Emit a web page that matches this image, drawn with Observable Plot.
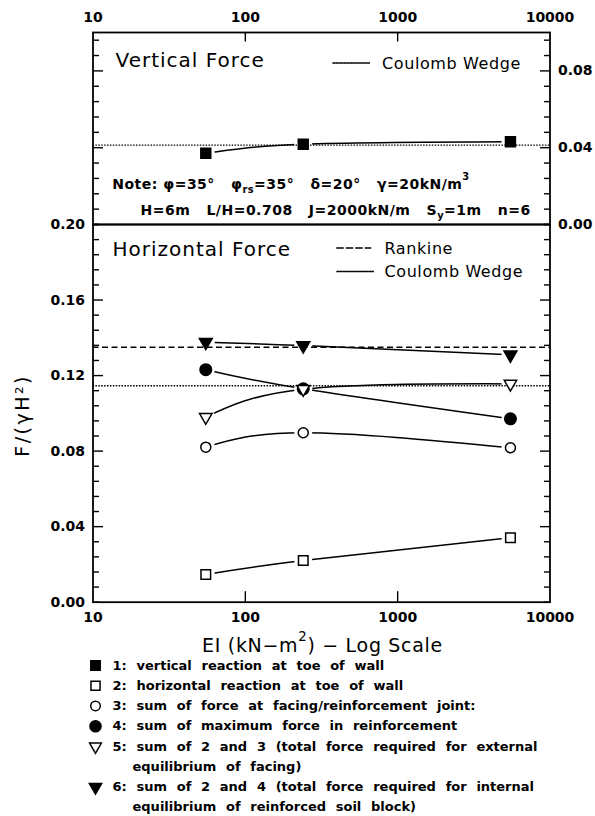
<!DOCTYPE html>
<html><head><meta charset="utf-8">
<script src="https://cdn.jsdelivr.net/npm/d3@7"></script>
<script src="https://cdn.jsdelivr.net/npm/@observablehq/plot@0.6"></script>
<style>
body{margin:0;background:#fff;}
#wrap{position:relative;width:595px;height:816px;overflow:hidden;font-family:"DejaVu Sans",sans-serif;}
.panel{position:absolute;left:0;}
</style></head>
<body>
<div id="wrap">
  <div id="p1" class="panel" style="top:0"></div>
  <div id="p2" class="panel" style="top:222px"></div>
  <div id="p3" class="panel" style="top:652px"></div>
</div>
<script>
// ---------- data ----------
const EI = [55, 240, 5500];
const xTickLabels = [10, 100, 1000, 10000];
const xInnerTicks = [100, 1000];
const yTicksTop = [0, 0.04, 0.08];
const yTicksBottom = [0, 0.04, 0.08, 0.12, 0.16, 0.20];

const vertical1 = [0.0371, 0.0418, 0.0431];        // 1: vertical reaction at toe
const horizontal2 = [0.0147, 0.0221, 0.0341];      // 2: horizontal reaction at toe
const facing3 = [0.0821, 0.0897, 0.0818];          // 3: force at facing/reinforcement joint
const reinforcement4 = [0.1231, 0.1130, 0.0971];   // 4: max force in reinforcement
const external5 = [0.0980, 0.1128, 0.1156];        // 5: 2 + 3
const internal6 = [0.1377, 0.1359, 0.1310];        // 6: 2 + 4

const coulombVertical = [0.0413];
const rankineHorizontal = [0.1350];
const coulombHorizontal = [0.1146];

const legendLabels = [
  "1: vertical reaction at toe of wall",
  "2: horizontal reaction at toe of wall",
  "3: sum of force at facing/reinforcement joint:",
  "4: sum of maximum force in reinforcement",
  "5: sum of 2 and 3 (total force required for external",
  "6: sum of 2 and 4 (total force required for internal"
];
const legendContinuation = [null, null, null, null,
  "equilibrium of facing)",
  "equilibrium of reinforced soil block)"];
const legendRows = [0, 1, 2, 3, 4, 6];

const noteLine1 = "Note:\u00a0φ=35°\u00a0\u00a0\u00a0φ_{rs}=35°\u00a0\u00a0\u00a0δ=20°\u00a0\u00a0\u00a0γ=20kN/m^{3}";
const noteLine2 = "H=6m\u00a0\u00a0\u00a0L/H=0.708\u00a0\u00a0\u00a0J=2000kN/m\u00a0\u00a0\u00a0S_{y}=1m\u00a0\u00a0\u00a0n=6";

// ---------- styles ----------
const styles = {
  1: {symbol: "square", fill: "black", stroke: "black", r: 5.6},
  2: {symbol: "square", fill: "white", stroke: "black", r: 5.4},
  3: {symbol: "circle", fill: "white", stroke: "black", r: 5},
  4: {symbol: "circle", fill: "black", stroke: "black", r: 5.8},
  5: {symbol: "triangle", fill: "white", stroke: "black", r: 4.6, rotate: 180},
  6: {symbol: "triangle", fill: "black", stroke: "black", r: 4.8, rotate: 180}
};
const FONT = "DejaVu Sans";
const W = 595, ML = 92.5, MR = 45.5, innerW = W - ML - MR;
const DOTTED = "1.5,1.4";
const rows = vals => EI.map((x, i) => ({x, y: vals[i]}));
const decadePx = innerW / 3;                      // log x scale: pixels per decade
const logStep = px => Math.pow(10, px / decadePx);

function seriesLayers(list) {
  const lines = [], halos = [], dots = [];
  for (const [vals, id] of list) {
    const data = rows(vals), st = styles[id];
    lines.push(Plot.line(data, {x: "x", y: "y", curve: "natural", stroke: "black", strokeWidth: 1.5}));
    halos.push(Plot.dot(data, {x: "x", y: "y", r: 9, fill: "white", stroke: "none"}));
    dots.push(Plot.dot(data, {x: "x", y: "y", symbol: st.symbol, fill: st.fill, stroke: st.stroke,
      strokeWidth: 1.5, r: st.r, rotate: st.rotate || 0}));
  }
  return {lines, halos, dots};
}

// inward frame ticks as short links anchored on the frame edges
function frameTicks({yMax, innerH, tickMax, major, xEdge, xLen}) {
  const minor = d3.range(0, tickMax + 1e-9, 0.008).filter(v => !major.some(m => Math.abs(m - v) < 1e-9));
  const o = {stroke: "black", strokeWidth: 1.4};
  const side = (vals, len) => [
    Plot.link(vals, {...o, x1: () => 10, x2: () => 10 * logStep(len), y1: d => d, y2: d => d}),
    Plot.link(vals, {...o, x1: () => 10000, x2: () => 10000 / logStep(len), y1: d => d, y2: d => d})
  ];
  const yPer = yMax / innerH;
  const xt = xEdge === "top"
    ? Plot.link(xInnerTicks, {...o, x1: d => d, x2: d => d, y1: () => yMax, y2: () => yMax - xLen * yPer})
    : Plot.link(xInnerTicks, {...o, x1: d => d, x2: d => d, y1: () => 0, y2: () => xLen * yPer});
  return [...side(minor, 6), ...side(major, 10), xt];
}

function rich(svg) {
  d3.select(svg).selectAll("text").each(function() {
    const t = this.textContent;
    if (!/[_^]\{/.test(t)) return;
    const fs = parseFloat(getComputedStyle(this).fontSize) || 12;
    const parts = t.split(/([_^]\{[^}]*\})/);
    while (this.firstChild) this.removeChild(this.firstChild);
    let shift = 0;
    for (const p of parts) {
      if (!p) continue;
      const m = p.match(/^([_^])\{([^}]*)\}$/);
      const ts = document.createElementNS("http://www.w3.org/2000/svg", "tspan");
      if (m) {
        const target = m[1] === "^" ? -0.62 * fs : 0.32 * fs;
        ts.setAttribute("dy", target - shift); shift = target;
        ts.setAttribute("font-size", 0.7 * fs);
        ts.textContent = m[2];
      } else {
        if (shift) ts.setAttribute("dy", -shift);
        shift = 0;
        ts.textContent = p;
      }
      this.appendChild(ts);
    }
  });
}

const spacingRules = [];
function spaced(strings, letter, word) { for (const s of strings) spacingRules.push({s, letter, word}); }
function applySpacing(svg) {
  svg.querySelectorAll("text").forEach(t => {
    const rule = spacingRules.find(r => r.s === t.textContent);
    if (!rule) return;
    if (rule.letter != null) t.style.letterSpacing = rule.letter + "px";
    if (rule.word != null) t.style.wordSpacing = rule.word + "px";
  });
}
spaced(["Vertical Force", "Horizontal Force"], 1.0);
spaced(["Coulomb Wedge", "Rankine"], 0.6);
spaced([noteLine1, noteLine2], 0.5);
spaced(["EI (kN−m^{2}) − Log Scale"], 0.7);
spaced(["F/(γH²)"], 2.5);
spaced([...legendLabels, ...legendContinuation.filter(Boolean)], null, 5.2);

const axisFont = {fontSize: 14, fontWeight: "bold", fontFamily: FONT};

// ---------- top panel: vertical force ----------
const H1 = 226, MT1 = 32, MB1 = 2, innerH1 = H1 - MT1 - MB1;
const s1 = seriesLayers([[vertical1, 1]]);
const plot1 = Plot.plot({
  width: W, height: H1, marginLeft: ML, marginRight: MR, marginTop: MT1, marginBottom: MB1,
  style: {fontFamily: FONT, background: "transparent", overflow: "visible"},
  x: {type: "log", domain: [10, 10000]},
  y: {domain: [0, 0.1]},
  marks: [
    ...s1.lines, ...s1.halos,
    Plot.ruleY(coulombVertical, {stroke: "black", strokeWidth: 1.3, strokeDasharray: DOTTED}),
    ...s1.dots,
    Plot.frame({stroke: "black", strokeWidth: 1.8}),
    Plot.axisX(xTickLabels, {anchor: "top", tickSize: 0, tickPadding: 11, tickFormat: d => String(d), label: null, ...axisFont}),
    Plot.axisY(yTicksTop, {anchor: "right", tickSize: 0, tickPadding: 8, tickFormat: d3.format(".2f"), label: null, ...axisFont}),
    Plot.text(["Vertical Force"], {text: d => d, frameAnchor: "top-left", dx: 22.5, dy: 34.7, lineAnchor: "bottom", textAnchor: "start", fontSize: 20}),
    Plot.frame({anchor: "top", insetTop: 30.5, insetLeft: 240, insetRight: 179.5, stroke: "black", strokeWidth: 1.3, strokeDasharray: DOTTED}),
    Plot.text(["Coulomb Wedge"], {text: d => d, frameAnchor: "top-left", dx: 289, dy: 36, lineAnchor: "bottom", textAnchor: "start", fontSize: 16}),
    Plot.text([noteLine1], {text: d => d, frameAnchor: "bottom-left", dx: 19.2, dy: -35.7, lineAnchor: "bottom", textAnchor: "start", fontSize: 14, fontWeight: "bold"}),
    Plot.text([noteLine2], {text: d => d, frameAnchor: "bottom-left", dx: 47.5, dy: -10, lineAnchor: "bottom", textAnchor: "start", fontSize: 14, fontWeight: "bold"}),
    ...frameTicks({yMax: 0.1, innerH: innerH1, tickMax: 0.096, major: [0.04, 0.08], xEdge: "top", xLen: 9})
  ]
});
document.getElementById("p1").appendChild(plot1);
applySpacing(plot1);
rich(plot1);

// ---------- bottom panel: horizontal force ----------
const MT2 = 2, innerH2 = 377.7, MB2 = 60, H2 = MT2 + innerH2 + MB2;
const s2 = seriesLayers([[horizontal2, 2], [facing3, 3], [reinforcement4, 4], [external5, 5], [internal6, 6]]);
const plot2 = Plot.plot({
  width: W, height: H2, marginLeft: ML, marginRight: MR, marginTop: MT2, marginBottom: MB2,
  style: {fontFamily: FONT, background: "transparent", overflow: "visible"},
  x: {type: "log", domain: [10, 10000]},
  y: {domain: [0, 0.2]},
  marks: [
    ...s2.lines, ...s2.halos,
    Plot.ruleY(rankineHorizontal, {stroke: "black", strokeWidth: 1.5, strokeDasharray: "6,3.5"}),
    Plot.ruleY(coulombHorizontal, {stroke: "black", strokeWidth: 1.3, strokeDasharray: DOTTED}),
    ...s2.dots,
    Plot.frame({stroke: "black", strokeWidth: 1.8}),
    Plot.axisX(xTickLabels, {anchor: "bottom", tickSize: 0, tickPadding: 10, tickFormat: d => String(d), label: null, ...axisFont}),
    Plot.axisY(yTicksBottom, {anchor: "left", tickSize: 0, tickPadding: 8, tickFormat: d3.format(".2f"), label: null, ...axisFont}),
    Plot.text(["Horizontal Force"], {text: d => d, frameAnchor: "top-left", dx: 19.5, dy: 32, lineAnchor: "bottom", textAnchor: "start", fontSize: 20}),
    Plot.frame({anchor: "top", insetTop: 23.5, insetLeft: 244, insetRight: 179.5, stroke: "black", strokeWidth: 1.5, strokeDasharray: "6,3.5"}),
    Plot.text(["Rankine"], {text: d => d, frameAnchor: "top-left", dx: 291.5, dy: 30, lineAnchor: "bottom", textAnchor: "start", fontSize: 16}),
    Plot.frame({anchor: "top", insetTop: 47, insetLeft: 244, insetRight: 176.5, stroke: "black", strokeWidth: 1.3, strokeDasharray: DOTTED}),
    Plot.text(["Coulomb Wedge"], {text: d => d, frameAnchor: "top-left", dx: 291.5, dy: 52.5, lineAnchor: "bottom", textAnchor: "start", fontSize: 16}),
    Plot.text(["F/(γH²)"], {text: d => d, frameAnchor: "left", dx: -70, dy: 2, rotate: -90, textAnchor: "middle", lineAnchor: "middle", fontSize: 19}),
    Plot.text(["EI (kN−m^{2}) − Log Scale"], {text: d => d, frameAnchor: "bottom", dx: 1, dy: 50.3, textAnchor: "middle", lineAnchor: "bottom", fontSize: 19}),
    ...frameTicks({yMax: 0.2, innerH: innerH2, tickMax: 0.2, major: [0.04, 0.08, 0.12, 0.16], xEdge: "bottom", xLen: 11})
  ]
});
document.getElementById("p2").appendChild(plot2);
applySpacing(plot2);
rich(plot2);

// ---------- legend ----------
const legendData = legendLabels.map((label, i) => ({id: i + 1, row: legendRows[i], label, cont: legendContinuation[i]}));
const legendMarks = legendData.map(d => {
  const st = styles[d.id];
  return Plot.dot([d], {x: () => 0, y: "row", symbol: st.symbol, fill: st.fill, stroke: st.stroke,
    strokeWidth: 1.5, r: st.r * 0.95, rotate: st.rotate || 0});
});
const plot3 = Plot.plot({
  width: W, height: 164, marginLeft: 95, marginRight: 0, marginTop: 13, marginBottom: 9.3,
  style: {fontFamily: FONT, background: "transparent", overflow: "visible"},
  x: {domain: [0, 1], axis: null},
  y: {domain: [0, 7], reverse: true, axis: null},
  marks: [
    ...legendMarks,
    Plot.text(legendData, {x: () => 0, y: "row", text: "label", dx: 17, textAnchor: "start", lineAnchor: "middle", fontSize: 13, fontWeight: "bold"}),
    Plot.text(legendData.filter(d => d.cont), {x: () => 0, y: d => d.row + 1, text: "cont", dx: 37, textAnchor: "start", lineAnchor: "middle", fontSize: 13, fontWeight: "bold"})
  ]
});
document.getElementById("p3").appendChild(plot3);
applySpacing(plot3);
rich(plot3);
</script>
</body></html>
